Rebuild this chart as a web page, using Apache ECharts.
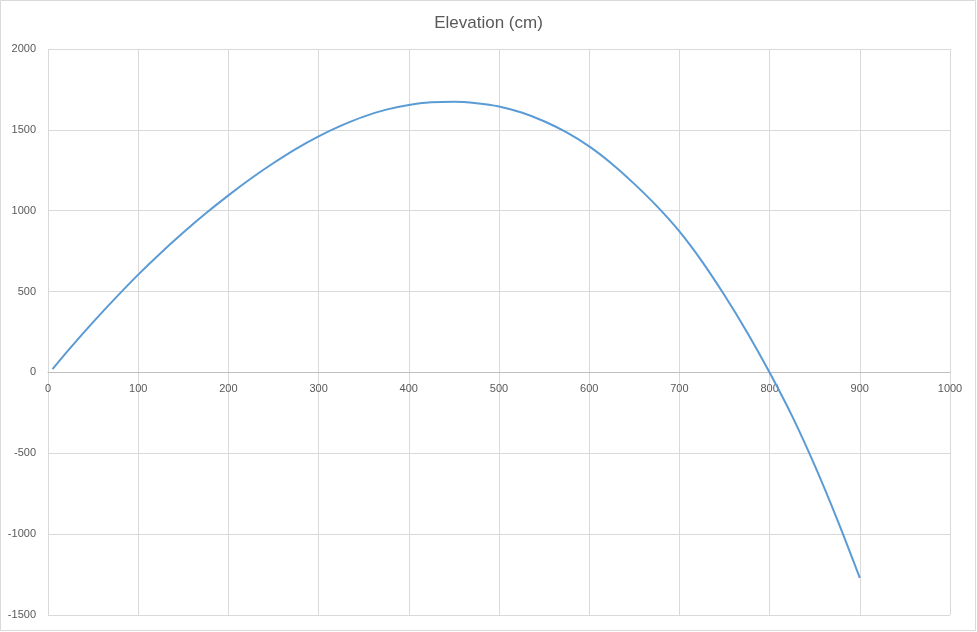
<!DOCTYPE html>
<html>
<head>
<meta charset="utf-8">
<script src="https://cdn.jsdelivr.net/npm/echarts@6/dist/echarts.min.js"></script>
<style>
html,body{margin:0;padding:0;background:#fff;}
#chart{width:977px;height:632px;}
</style>
</head>
<body>
<div id="chart"></div>
<script>
const chartTitle = "Elevation (cm)";
const distance = [5, 25, 50, 75, 100, 125, 150, 175, 200, 225, 250, 275, 300, 325, 350, 375, 400, 425, 450, 475, 500, 525, 550, 575, 600, 625, 650, 675, 700, 725, 750, 775, 800, 825, 850, 875, 900];
const elevation = [20, 153, 311, 461, 605, 739, 865, 984, 1095, 1199, 1295, 1383, 1460, 1526, 1582, 1625, 1654, 1670, 1674, 1665, 1645, 1607, 1553, 1484, 1398, 1291, 1166, 1028, 872, 687, 477, 249, 0, -270, -575, -910, -1270];
const xTicks = {min: 0, max: 1000, interval: 100};
const yTicks = {min: -1500, max: 2000, interval: 500};

const points = distance.map((d, i) => [d, elevation[i]]);
const gridTop = 49, gridBottom = 17, chartH = 632;
const plotH = chartH - gridTop - gridBottom;
const zeroOffset = -plotH * (0 - yTicks.min) / (yTicks.max - yTicks.min);

const chart = echarts.init(document.getElementById('chart'));
chart.setOption({
  animation: false,
  backgroundColor: '#ffffff',
  title: {
    text: chartTitle,
    left: 'center',
    top: 10,
    textStyle: {fontFamily: 'Liberation Sans, Arial, sans-serif', fontSize: 17, fontWeight: 'normal', color: '#595959'}
  },
  graphic: [{
    type: 'rect',
    shape: {x: 0.5, y: 0.5, width: 975, height: 630},
    style: {fill: 'none', stroke: '#d9d9d9', lineWidth: 1},
    silent: true
  }],
  grid: {left: 48, right: 27, top: gridTop, bottom: gridBottom, containLabel: false},
  xAxis: {
    type: 'value',
    min: xTicks.min, max: xTicks.max, interval: xTicks.interval,
    offset: zeroOffset,
    axisLine: {show: true, onZero: false, lineStyle: {color: '#bfbfbf', width: 1}},
    axisTick: {show: false},
    axisLabel: {color: '#595959', fontSize: 11, fontFamily: 'Liberation Sans, Arial, sans-serif', margin: 11, formatter: v => String(v)},
    splitLine: {show: true, lineStyle: {color: '#d9d9d9', width: 1}}
  },
  yAxis: {
    type: 'value',
    min: yTicks.min, max: yTicks.max, interval: yTicks.interval,
    axisLine: {show: false},
    axisTick: {show: false},
    axisLabel: {color: '#595959', fontSize: 11, fontFamily: 'Liberation Sans, Arial, sans-serif', margin: 12, formatter: v => String(v)},
    splitLine: {show: true, lineStyle: {color: '#d9d9d9', width: 1}}
  },
  series: [{
    type: 'line',
    data: points,
    smooth: 0.3,
    showSymbol: false,
    lineStyle: {color: '#5b9bd5', width: 2}
  }]
});
</script>
</body>
</html>
